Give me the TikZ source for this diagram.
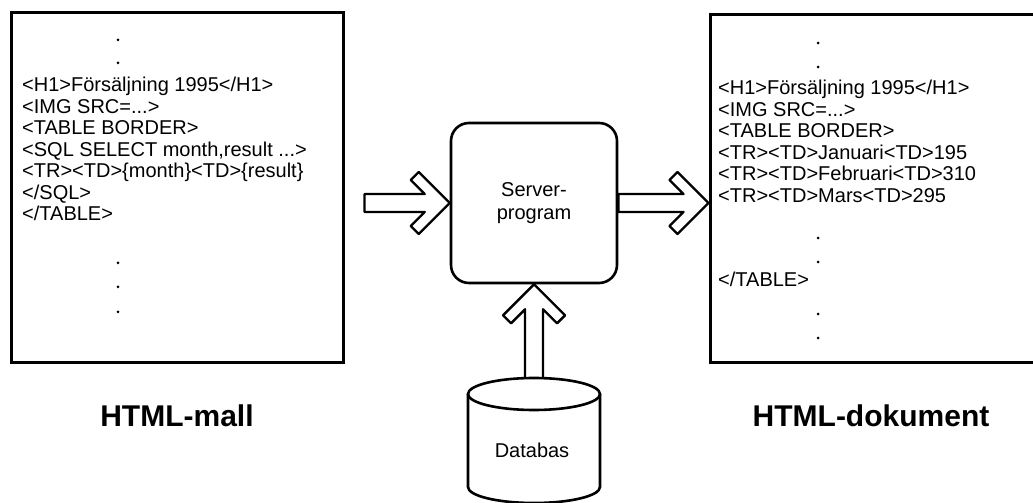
\documentclass[tikz,border=0pt]{standalone}
\usepackage{fontspec}
\setmainfont{Liberation Sans}
\usetikzlibrary{calc,positioning}

\newcommand{\codesize}{\fontsize{20}{21.5}\selectfont}
\newcommand{\titlesize}{\fontsize{30}{34}\selectfont\bfseries}
\newcommand{\threedots}{...}

% open block arrow: tail, tip, direction
\newcommand{\hollowarrow}[3]{%
  \draw[blockline] let \p1=($#2-#1$), \n1={veclen(\x1,\y1)} in
    [shift={#2}, rotate=#3]
    (-\n1,9pt) -- (-25pt,9pt) -- (-39pt,23pt) -- (-31pt,31pt) -- (0pt,0pt)
    -- (-31pt,-31pt) -- (-39pt,-23pt) -- (-25pt,-9pt) -- (-\n1,-9pt) -- cycle;}

\begin{document}
\begin{tikzpicture}[x=1pt, y=1pt,
  pagebox/.style={draw, line width=3pt, inner sep=0pt},
  serverbox/.style={draw, line width=2.6pt, rounded corners=18pt,
    minimum width=166pt, minimum height=160pt, align=center,
    font={\fontsize{20}{23}\selectfont}},
  codeline/.style={anchor=base west, inner sep=0pt, font=\codesize},
  pagetitle/.style={inner sep=0pt, font=\titlesize},
  blockline/.style={line width=2.4pt, line join=round, fill=white}]
\useasboundingbox (0,0) rectangle (1033,503);

% HTML template
\node[pagebox, minimum width=332pt, minimum height=350pt] (mall) at (177,315) {};
\foreach \row [count=\i from 0] in {{<H1>Försäljning 1995</H1>}, {<IMG SRC=\threedots>},
    {<TABLE BORDER>}, {<SQL SELECT month,result \threedots>},
    {<TR><TD>\{month\}<TD>\{result\}}, {</SQL>}, {</TABLE>}}
  \node[codeline] (mall-\i) at (22,411-21.5*\i) {\row};
\foreach \y in {463,440,240,216,191}
  \fill (118,\y) circle (1.5);
\node[pagetitle, below=40pt of mall] (mall-title) {HTML-mall};

% server
\node[serverbox] (server) at (534,300) {Server-\\program};

% HTML document
\node[pagebox, minimum width=340pt, minimum height=348pt] (doc) at (880,314) {};
\foreach \row [count=\i from 0] in {{<H1>Försäljning 1995</H1>}, {<IMG SRC=\threedots>},
    {<TABLE BORDER>}, {<TR><TD>Januari<TD>195}, {<TR><TD>Februari<TD>310},
    {<TR><TD>Mars<TD>295}}
  \node[codeline] (doc-\i) at (718,408-21.5*\i) {\row};
\node[codeline] (doc-end) at (718,216) {</TABLE>};
\foreach \y in {460,436,265,241,189,165}
  \fill (818,\y) circle (1.5);
\node[pagetitle, below=40pt of doc, xshift=-9pt] (doc-title) {HTML-dokument};

% database
\coordinate (db-top) at (534,109);
\node[inner sep=0pt, font=\codesize] (db) at (532,53) {Databas};
\draw[line width=2.6pt] (468,109) -- (468,16)
  arc[start angle=180, end angle=360, x radius=66, y radius=16] -- (600,109);

% connectors
\coordinate (feed) at ($(mall.east |- server.west)+(20,0)$);
\hollowarrow{(feed)}{(server.west)}{0}
\hollowarrow{(server.east)}{(server.east -| doc.west)}{0}
\hollowarrow{(db-top)}{(server.south)}{90}
\draw[line width=2.6pt, fill=white] (db-top) ellipse[x radius=66, y radius=16];
\end{tikzpicture}
\end{document}
